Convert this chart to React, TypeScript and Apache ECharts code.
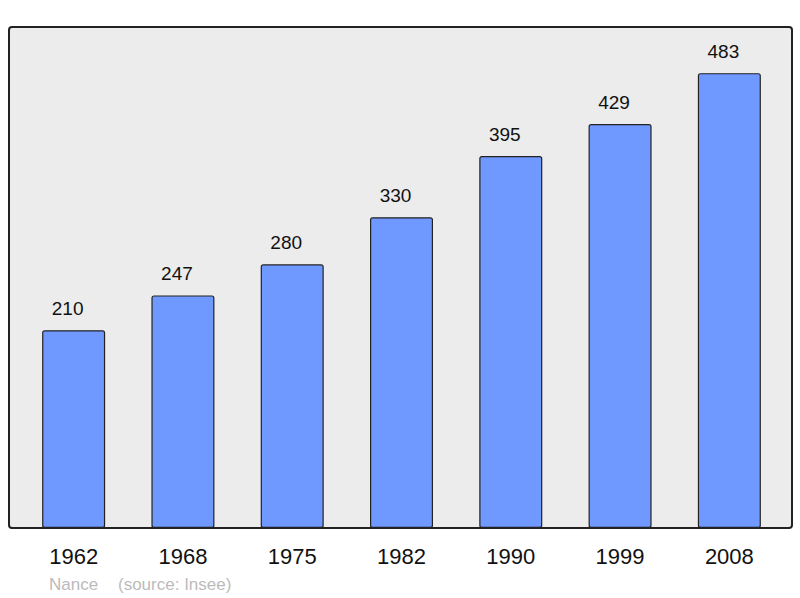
import React, { useEffect, useRef } from "react";
import * as echarts from "echarts";

const years = ["1962", "1968", "1975", "1982", "1990", "1999", "2008"];
const population = [210, 247, 280, 330, 395, 429, 483];
const placeName = "Nance";
const sourceText = "(source: Insee)";

export default function App() {
  const ref = useRef<HTMLDivElement>(null);
  useEffect(() => {
    if (!ref.current) return;
    const chart = echarts.init(ref.current, undefined, { renderer: "svg" });
    chart.setOption({
      animation: false,
      backgroundColor: "#ffffff",
      textStyle: { fontFamily: "Liberation Sans, Arial, sans-serif" },
      grid: { left: 19, width: 765, top: 27, bottom: 70, containLabel: false },
      xAxis: {
        type: "category",
        data: years,
        axisLine: { show: false },
        axisTick: { show: false },
        axisLabel: { color: "#111", fontSize: 22, margin: 17, fontFamily: "Liberation Sans, Arial, sans-serif" },
      },
      yAxis: { type: "value", min: 0, max: 532, show: false, splitLine: { show: false } },
      graphic: [
        {
          type: "rect",
          z: -10,
          shape: { x: 9, y: 27, width: 783, height: 501, r: 3 },
          style: { fill: "#ececec", stroke: "#222", lineWidth: 2 },
        },
        {
          type: "text",
          x: 49,
          y: 584,
          style: { text: placeName, fill: "#bbbbbb", fontSize: 17, fontFamily: "Liberation Sans, Arial, sans-serif", verticalAlign: "middle" },
        },
        {
          type: "text",
          x: 118,
          y: 584,
          style: { text: sourceText, fill: "#bbbbbb", fontSize: 17, fontFamily: "Liberation Sans, Arial, sans-serif", verticalAlign: "middle" },
        },
      ],
      series: [
        {
          type: "bar",
          data: population,
          barWidth: 63,
          itemStyle: { color: "#7099ff", borderColor: "#222", borderWidth: 1.2, borderRadius: 2 },
          label: {
            show: true,
            position: "top",
            distance: 12,
            offset: [-6, 0],
            color: "#111",
            fontSize: 19,
            fontFamily: "Liberation Sans, Arial, sans-serif",
          },
        },
      ],
    });
    return () => chart.dispose();
  }, []);
  return <div ref={ref} style={{ width: 800, height: 598, position: "absolute", left: 0, top: 0 }} />;
}
